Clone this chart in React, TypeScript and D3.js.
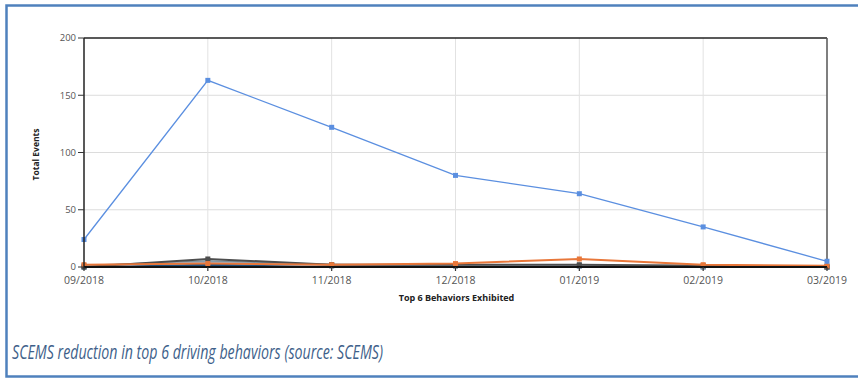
import React from "react";
import * as d3 from "d3";

const months = ["09/2018", "10/2018", "11/2018", "12/2018", "01/2019", "02/2019", "03/2019"];
const yTicks = [0, 50, 100, 150, 200];
const seriesNames = ["S1", "S2", "S3", "S4", "S5", "S6"];
const seriesColors = ["#5b8fe0", "#e8773a", "#4d4d4d", "#9fb3c8", "#1f4e79", "#7a8f99"];
const s1 = [24, 163, 122, 80, 64, 35, 5];
const s2 = [2, 3, 2, 3, 7, 2, 1];
const s3 = [0, 7, 2, 2, 2, 1, 0];
const s4 = [1, 4, 1, 1, 1, 0, 0];
const s5 = [0, 2, 1, 1, 1, 0, 0];
const s6 = [1, 5, 2, 1, 1, 1, 0];
const seriesValues = [s1, s2, s3, s4, s5, s6];
const xTitle = "Top 6 Behaviors Exhibited";
const yTitle = "Total Events";
const caption = "SCEMS reduction in top 6 driving behaviors (source: SCEMS)";

export default function App() {
  const W = 858, H = 383;
  const left = 84, right = 827, top = 38, bottom = 267;
  const x = d3.scalePoint<string>().domain(months).range([left, right]);
  const y = d3.scaleLinear().domain([0, 200]).range([bottom, top]);
  const line = d3.line<number>().x((_, i) => x(months[i]) as number).y(d => y(d));
  const order = [5, 4, 3, 2, 1, 0];
  return (
    <svg width={W} height={H} style={{ position: "absolute", left: 0, top: 0, background: "#fff" }}
      fontFamily="'Open Sans', 'DejaVu Sans', sans-serif">
      <rect x={0} y={0} width={W} height={H} fill="#fff" />
      <rect x={6.5} y={5.5} width={W + 20} height={371} fill="none" stroke="#4f81bd" strokeWidth={2.5} />
      {yTicks.slice(1, -1).map(t => (
        <line key={"gy" + t} x1={left} x2={right} y1={y(t)} y2={y(t)} stroke="#dcdcdc" strokeWidth={1} />
      ))}
      {months.slice(1, -1).map(m => (
        <line key={"gx" + m} x1={x(m)} x2={x(m)} y1={top} y2={bottom} stroke="#e2e2e2" strokeWidth={1} />
      ))}
      <line x1={left} x2={right} y1={top} y2={top} stroke="#222" strokeWidth={1.5} />
      <line x1={right} x2={right} y1={top} y2={bottom} stroke="#555" strokeWidth={1.5} />
      {order.map(si => (
        <g key={seriesNames[si]}>
          <path d={line(seriesValues[si]) || ""} fill="none" stroke={seriesColors[si]} strokeWidth={si === 0 ? 1.3 : 2} />
          {seriesValues[si].map((v, i) => (
            <rect key={i} x={(x(months[i]) as number) - 2.5} y={y(v) - 2.5} width={5} height={5} fill={seriesColors[si]} />
          ))}
        </g>
      ))}
      <line x1={left} x2={left} y1={top} y2={bottom + 1} stroke="#222" strokeWidth={1.5} />
      <line x1={left} x2={right} y1={bottom} y2={bottom} stroke="#111" strokeWidth={2} />
      {yTicks.map(t => (
        <g key={"yt" + t}>
          <line x1={left - 6} x2={left} y1={y(t)} y2={y(t)} stroke="#333" strokeWidth={1} />
          <text x={left - 8} y={y(t)} dy="0.35em" textAnchor="end" fontSize={9.5} fill="#555">{t}</text>
        </g>
      ))}
      {months.map(m => (
        <g key={"xt" + m}>
          <line x1={x(m)} x2={x(m)} y1={bottom} y2={bottom + 4} stroke="#333" strokeWidth={1.2} />
          <text x={x(m)} y={bottom + 16.5} textAnchor="middle" fontSize={10.5} fill="#555">{m}</text>
        </g>
      ))}
      <text x={(left + right) / 2 + 1} y={301} textAnchor="middle" fontSize={9} fontWeight="bold" fill="#222">{xTitle}</text>
      <text transform={`translate(39, ${(top + bottom) / 2 + 2}) rotate(-90)`} textAnchor="middle" fontSize={8.5} fontWeight="bold" fill="#222">{yTitle}</text>
      <text x={12} y={359} fontSize={20} fontStyle="italic" fill="#3e5f8a" fontFamily="'Open Sans', sans-serif"
        textLength={371} lengthAdjust="spacingAndGlyphs">{caption}</text>
    </svg>
  );
}
